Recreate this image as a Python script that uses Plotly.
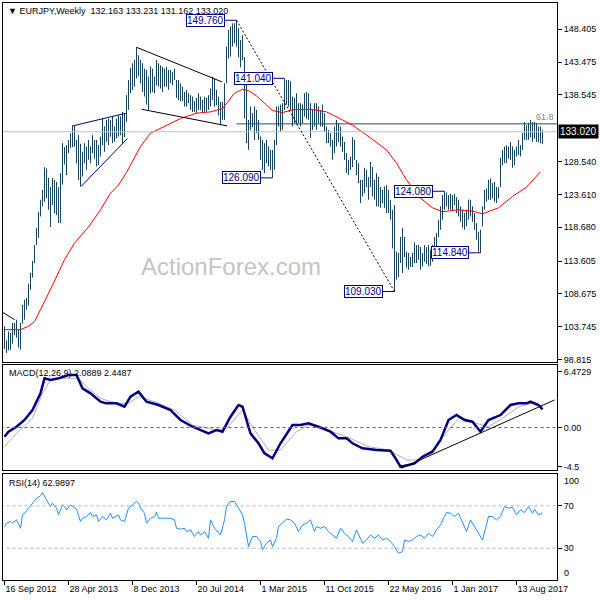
import pandas as pd
import plotly.graph_objects as go

# ---------------- data ----------------
START = "2012-09-16"  # first weekly bar

highs = [
    103.8, 101.7, 103.0, 102.8, 104.3, 104.3, 104.8, 103.3, 104.3, 107.0,
    107.8, 108.1, 110.2, 111.8, 113.6, 116.0, 118.6, 121.0, 122.8, 124.3,
    127.7, 127.5, 126.1, 124.7, 126.1, 125.8, 125.5, 124.7, 126.8, 131.3,
    130.7, 131.0, 131.8, 132.8, 134.0, 133.9, 131.8, 132.5, 131.2, 130.0,
    131.3, 130.8, 131.8, 130.8, 132.5, 131.8, 131.8, 131.0, 132.3, 135.0,
    133.8, 134.8, 135.0, 134.8, 135.3, 133.8, 135.0, 135.5, 135.3, 136.0,
    135.8, 138.5, 140.8, 142.6, 143.3, 143.8, 145.7, 144.5, 143.8, 143.3,
    142.5, 142.3, 141.3, 142.8, 142.5, 141.3, 143.8, 143.3, 143.0, 142.8,
    142.5, 142.8, 142.3, 142.3, 142.0, 142.5, 140.8, 140.8, 140.3, 139.8,
    139.0, 139.3, 138.8, 138.5, 138.3, 137.6, 138.1, 138.8, 138.3, 137.8,
    138.3, 138.1, 138.5, 139.5, 141.3, 141.0, 139.3, 138.3, 137.5, 137.5,
    140.3, 145.8, 148.3, 148.8, 149.3, 149.3, 149.76, 148.6, 146.8, 147.5,
    144.2, 140.8, 134.8, 136.8, 135.8, 136.8, 136.3, 134.8, 132.3, 131.8,
    131.3, 131.8, 130.8, 130.3, 130.3, 131.8, 136.8, 136.8, 137.1, 137.3,
    141.04, 140.8, 140.8, 140.6, 138.3, 138.1, 138.8, 137.3, 137.3, 137.1,
    138.8, 139.0, 138.8, 137.3, 136.3, 137.3, 137.3, 136.8, 136.3, 137.1,
    135.8, 133.8, 133.3, 132.8, 131.8, 133.8, 134.8, 134.3, 133.8, 132.3,
    131.5, 129.8, 128.8, 129.3, 132.2, 131.8, 128.8, 128.3, 125.8, 125.8,
    127.6, 127.3, 126.2, 128.5, 127.7, 125.8, 126.8, 126.2, 124.7, 124.3,
    124.8, 125.0, 124.3, 122.8, 121.3, 122.0, 115.0, 114.8, 117.2, 118.6,
    117.2, 115.0, 114.8, 114.2, 114.8, 116.4, 116.0, 116.0, 115.7, 114.8,
    116.0, 115.7, 116.0, 115.3, 116.0, 117.2, 117.8, 119.8, 121.8, 123.5,
    124.08, 123.9, 123.5, 123.7, 123.5, 123.7, 123.2, 122.8, 121.8, 121.3,
    120.8, 121.3, 122.8, 122.8, 121.8, 120.8, 119.3, 118.0, 118.3, 121.8,
    124.3, 124.5, 125.8, 126.0, 125.3, 125.5, 124.7, 124.7, 129.1, 130.3,
    130.8, 131.0, 130.8, 131.5, 130.8, 130.3, 130.8, 131.8, 131.0, 132.8,
    134.5, 134.0, 134.3, 134.8, 134.5, 134.5, 134.3, 133.8, 133.8, 133.231,
]

lows = [
    100.4, 99.8, 100.2, 100.3, 101.2, 102.5, 102.1, 100.6, 100.3, 104.2,
    104.8, 106.3, 106.9, 109.3, 111.1, 113.3, 116.0, 117.1, 120.3, 121.8,
    122.5, 123.0, 121.3, 118.7, 122.0, 120.8, 120.5, 119.3, 119.3, 125.1,
    128.1, 126.5, 129.8, 130.6, 130.7, 130.8, 128.3, 125.8, 124.8, 126.3,
    128.3, 127.3, 128.8, 128.3, 129.8, 129.0, 127.8, 128.0, 129.3, 131.0,
    130.0, 131.5, 131.0, 132.3, 131.3, 131.5, 132.0, 132.3, 132.5, 131.2,
    132.2, 134.5, 136.3, 138.8, 139.3, 139.8, 141.0, 141.3, 140.3, 139.0,
    138.3, 137.1, 136.3, 138.8, 139.0, 138.8, 140.0, 139.8, 139.5, 139.0,
    139.8, 139.8, 139.3, 140.3, 140.0, 140.8, 138.1, 137.8, 137.6, 137.6,
    136.8, 136.8, 137.3, 136.3, 136.0, 136.0, 135.8, 136.3, 136.3, 136.0,
    136.0, 136.0, 136.3, 136.8, 137.8, 136.8, 137.0, 135.5, 134.0, 134.8,
    134.8, 140.3, 144.0, 144.3, 145.8, 146.3, 145.8, 144.2, 142.7, 143.8,
    135.0, 131.3, 130.3, 133.3, 133.7, 131.8, 132.8, 131.8, 128.8, 127.3,
    126.8, 128.3, 127.8, 127.3, 126.09, 127.3, 131.0, 133.8, 133.0, 133.3,
    136.3, 137.1, 136.8, 136.3, 133.8, 134.3, 134.1, 134.3, 133.8, 134.3,
    135.3, 135.0, 134.8, 132.1, 133.3, 133.8, 133.3, 134.3, 133.8, 133.8,
    133.0, 131.3, 131.3, 130.8, 128.8, 129.8, 130.8, 131.5, 130.8, 130.0,
    128.8, 126.8, 126.5, 127.3, 127.7, 128.8, 126.5, 125.3, 122.3, 123.3,
    123.8, 124.7, 122.8, 124.7, 123.3, 122.8, 121.8, 121.8, 121.6, 122.3,
    121.6, 120.8, 120.8, 119.8, 115.5, 109.03, 110.8, 111.2, 113.3, 111.8,
    114.2, 112.6, 112.3, 112.7, 112.7, 113.3, 113.3, 113.8, 112.3, 112.8,
    113.5, 113.2, 112.8, 112.9, 113.5, 114.8, 115.3, 117.2, 118.3, 119.8,
    121.3, 121.8, 121.3, 121.3, 121.1, 122.0, 120.8, 120.3, 119.5, 118.6,
    118.3, 118.8, 119.8, 120.3, 119.5, 118.3, 116.8, 115.0, 114.84, 118.8,
    121.3, 122.5, 122.8, 122.8, 123.0, 122.5, 122.3, 123.0, 124.7, 128.0,
    128.3, 128.3, 129.0, 128.8, 127.6, 128.0, 129.3, 129.5, 129.3, 130.3,
    131.8, 131.8, 131.8, 132.2, 131.5, 132.0, 131.5, 131.5, 131.3, 131.162,
]

# red moving average (bar index, value)
ma_bars = [0, 8, 12, 15, 18, 22, 25, 30, 35, 42, 48, 53, 57, 61, 64, 68, 73, 81,
           88, 96, 103, 109, 112, 115, 119, 122, 126, 130, 134, 139, 144, 153,
           161, 169, 174, 183, 191, 196, 201, 207, 214, 219, 227, 234, 239, 247,
           254, 261, 268]
ma_vals = [103.3, 103.3, 103.8, 104.5, 106.3, 108.7, 110.6, 113.8, 116.3, 118.7,
           121.3, 123.8, 125.0, 126.9, 128.5, 130.8, 132.8, 134.0, 135.0, 135.8,
           136.0, 136.5, 137.6, 138.8, 139.4, 139.2, 138.4, 137.3, 136.2, 135.9,
           136.3, 136.4, 136.0, 134.8, 134.0, 132.1, 130.3, 128.3, 125.8, 123.3,
           121.6, 121.0, 121.3, 121.1, 120.7, 121.6, 123.3, 124.7, 127.0]

# MACD main line and signal (bar index, value)
macd_bars = [0, 2, 6, 10, 14, 18, 20, 23, 27, 32, 36, 39, 43, 48, 51, 56, 60, 63,
             67, 71, 77, 83, 88, 94, 102, 106, 109, 113, 117, 119, 123, 127, 130,
             134, 138, 144, 148, 152, 157, 163, 167, 171, 174, 179, 186, 193, 195,
             198, 202, 205, 209, 214, 218, 222, 226, 230, 234, 238, 242, 248, 253,
             257, 261, 263, 267, 269]
macd_vals = [-1.06, -0.48, 0.09, 0.87, 2.02, 3.95, 5.68, 5.48, 5.68, 6.06, 6.06,
             4.53, 3.95, 2.98, 2.79, 2.79, 2.40, 3.56, 4.13, 2.98, 2.60, 2.02,
             0.87, 0.09, -0.67, -0.29, -0.48, 1.25, 2.60, 2.40, -0.67, -1.82,
             -2.98, -3.56, -1.82, 0.29, 0.29, 0.48, 0.09, -0.48, -1.25, -1.25,
             -1.82, -2.40, -2.60, -2.68, -3.37, -4.53, -4.33, -4.14, -3.37,
             -2.79, -1.44, 0.87, 1.44, 0.87, 0.67, -0.48, 0.87, 1.44, 2.60, 2.79,
             2.79, 2.98, 2.60, 2.0889]
sig_bars = [0, 6, 14, 19, 23, 29, 37, 41, 48, 56, 62, 67, 75, 85, 94, 106, 111,
            119, 125, 132, 138, 146, 152, 159, 171, 182, 192, 201, 207, 215, 222,
            228, 236, 242, 249, 257, 265, 269]
sig_vals = [-2.21, -0.67, 1.06, 3.95, 5.48, 5.68, 5.68, 4.71, 3.37, 2.79, 2.79,
            3.56, 2.98, 2.02, 0.29, -0.29, -0.10, 2.02, -0.29, -2.60, -2.60,
            -0.48, 0.29, -0.10, -1.06, -2.21, -2.60, -3.75, -3.75, -2.40, -0.29,
            1.25, 0.48, 0.09, 1.06, 2.40, 2.86, 2.4487]

# RSI(14) (bar index, value)
rsi_bars = [0, 1, 3, 4, 6, 8, 9, 10, 12, 14, 16, 18, 19, 21, 23, 24, 26, 27, 29,
            30, 31, 33, 35, 36, 38, 39, 41, 43, 44, 46, 47, 49, 51, 53, 54, 56,
            57, 58, 60, 62, 64, 66, 67, 68, 70, 71, 73, 75, 76, 77, 80, 83, 85,
            86, 88, 90, 91, 93, 95, 97, 98, 100, 102, 103, 105, 107, 108, 110,
            111, 113, 115, 117, 119, 120, 122, 124, 126, 128, 129, 131, 133, 134,
            136, 137, 139, 141, 143, 145, 147, 149, 151, 153, 155, 156, 158, 160,
            162, 164, 166, 168, 170, 172, 174, 176, 177, 179, 181, 183, 185, 187,
            189, 191, 193, 195, 197, 199, 200, 202, 204, 206, 208, 210, 212, 214,
            216, 218, 220, 221, 223, 225, 227, 229, 231, 233, 235, 237, 239, 241,
            242, 244, 246, 248, 250, 252, 254, 256, 258, 260, 262, 264, 265, 267,
            269]
rsi_vals = [50.4, 53.6, 55.2, 53.6, 56.7, 48.8, 61.4, 63.0, 67.8, 72.5,
            77.2, 79.4, 82.6, 75.6, 69.3, 72.5, 67.8, 61.4, 70.9, 69.3,
            66.2, 70.9, 67.8, 66.8, 55.2, 58.3, 59.9, 63.7, 59.9, 61.4,
            55.2, 59.9, 56.7, 63.0, 58.3, 59.9, 61.4, 56.7, 55.2, 67.8,
            70.9, 74.1, 72.5, 67.8, 63.0, 53.6, 58.3, 59.9, 64.0, 58.3,
            58.3, 58.3, 56.7, 48.8, 47.9, 48.8, 45.7, 47.3, 41.0, 45.7,
            42.5, 45.7, 39.4, 56.7, 48.8, 44.1, 42.5, 56.7, 69.3, 74.1,
            74.1, 67.8, 61.4, 53.6, 31.5, 41.0, 41.0, 36.3, 28.4, 34.7,
            37.8, 31.5, 39.4, 50.4, 53.6, 57.4, 56.7, 53.6, 45.7, 52.0,
            53.6, 56.7, 45.7, 50.4, 48.8, 50.4, 45.7, 42.5, 39.4, 48.8,
            44.1, 41.0, 36.3, 47.3, 42.5, 34.7, 37.8, 42.5, 39.4, 42.5,
            37.8, 39.4, 36.3, 31.5, 25.2, 26.8, 37.8, 36.3, 37.8, 41.0,
            42.5, 39.4, 44.1, 41.0, 47.3, 52.0, 59.9, 63.7, 63.0, 59.9,
            63.0, 53.6, 45.7, 56.7, 50.4, 44.1, 37.8, 52.0, 59.9, 59.9,
            56.7, 59.9, 69.3, 67.8, 68.7, 61.4, 66.2, 63.7, 69.3, 63.0,
            66.8, 61.4, 62.9897]

# x-axis tick labels
date_tick_bars = [0, 32, 64, 96, 128, 160, 192, 224, 256]
date_tick_labels = ["16 Sep 2012", "28 Apr 2013", "8 Dec 2013", "20 Jul 2014",
                    "1 Mar 2015", "11 Oct 2015", "22 May 2016", "1 Jan 2017",
                    "13 Aug 2017"]
price_ticks = [148.405, 143.475, 138.545, 128.540, 123.610, 118.680, 113.605,
               108.675, 103.745, 98.815]
macd_ticks = [6.4729, 0.0, -4.5]
macd_tick_text = ["6.4729", "0.00", "-4.5"]
rsi_levels = [70, 30]

# labelled swing points (bar index, price)
swing_bars = [116, 140, 134, 220, 238, 195]
swing_vals = [149.760, 141.040, 126.090, 124.080, 114.840, 109.030]

last_close = 133.020
fib_level = 134.20

# drawn trend lines: (bar0, value0, bar1, value1)
blue_wedge = [(34.2, 133.9, 60.7, 135.8), (38.3, 124.8, 61.5, 132.0)]
black_wedge = [(66.0, 145.7, 108.8, 140.5), (68.5, 136.4, 111.3, 133.9),
               (-1.5, 106.0, 5.1, 104.8)]
dotted_line = (116, 149.76, 195, 109.03)
macd_trend = (198.5, -4.7, 275.0, 3.18)

# ---------------- figure ----------------
start = pd.Timestamp(START)


def wk(b):
    return start + pd.Timedelta(days=7 * b)


def ds(b):
    return wk(b).strftime("%Y-%m-%d %H:%M:%S")


dates = [ds(i) for i in range(len(highs))]

seg_x, seg_y = [], []
for d, h, l in zip(dates, highs, lows):
    seg_x += [d, d, None]
    seg_y += [l, h, None]

FONT = "Liberation Sans, Arial, DejaVu Sans, sans-serif"
BAR_COL = "#17435c"
NAVY = "#000080"

fig = go.Figure()
fig.add_trace(go.Scatter(x=seg_x, y=seg_y, mode="lines", xaxis="x3", yaxis="y3",
                         line=dict(color=BAR_COL, width=1), hoverinfo="skip"))
fig.add_trace(go.Scatter(x=[ds(b) for b in ma_bars], y=ma_vals, mode="lines",
                         xaxis="x3", yaxis="y3",
                         line=dict(color="#ff0000", width=1)))
fig.add_trace(go.Scatter(x=[ds(b) for b in sig_bars], y=sig_vals, mode="lines",
                         xaxis="x2", yaxis="y2",
                         line=dict(color="#b0b0b0", width=1)))
fig.add_trace(go.Scatter(x=[ds(b) for b in macd_bars], y=macd_vals, mode="lines",
                         xaxis="x2", yaxis="y2",
                         line=dict(color=NAVY, width=2.5)))
fig.add_trace(go.Scatter(x=[ds(b) for b in rsi_bars], y=rsi_vals, mode="lines",
                         xaxis="x", yaxis="y",
                         line=dict(color="#1e90ff", width=1)))

shapes = []


def seg(xr, yr, b0, v0, b1, v1, color, dash="solid", width=1):
    shapes.append(dict(type="line", xref=xr, yref=yr, x0=ds(b0), y0=v0,
                       x1=ds(b1), y1=v1, layer="above",
                       line=dict(color=color, width=width, dash=dash)))


# horizontal lines
seg("x3", "y3", -5, last_close, 300, last_close, "#c0c0c0")
seg("x3", "y3", 116, fib_level, 300, fib_level, "#2f4f4f")
for b0, v0, b1, v1 in blue_wedge:
    seg("x3", "y3", b0, v0, b1, v1, "#00008b")
for b0, v0, b1, v1 in black_wedge:
    seg("x3", "y3", b0, v0, b1, v1, "#000000")
seg("x3", "y3", *dotted_line, "#000000", dash="2px,2px")
seg("x2", "y2", -5, 0, 300, 0, "#606060", dash="3px,3px")
seg("x2", "y2", *macd_trend, "#000000")
for lv in rsi_levels:
    seg("x", "y", -5, lv, 300, lv, "#b4b4b4", dash="3px,3px")

annotations = []
for b, v in zip(swing_bars, swing_vals):
    annotations.append(dict(
        x=ds(b), y=v, xref="x3", yref="y3", text=f"{v:.3f}",
        showarrow=True, arrowhead=0, arrowwidth=1, arrowcolor=NAVY,
        ax=-31, ay=0, font=dict(family=FONT, size=10, color=NAVY),
        bgcolor="white", bordercolor=NAVY, borderwidth=1, borderpad=0))

annotations.append(dict(x=1, xref="paper", y=last_close, yref="y3",
                        xanchor="left", yanchor="middle", xshift=1,
                        text=f"{last_close:.3f}", showarrow=False,
                        bgcolor="black", borderpad=1,
                        font=dict(family=FONT, size=10, color="white")))
annotations.append(dict(x=ds(276), xref="x3", y=fib_level, yref="y3",
                        xanchor="right", yanchor="bottom", text="61.8",
                        showarrow=False, xshift=-1,
                        font=dict(family=FONT, size=9, color="#8a8470")))
annotations.append(dict(x=0, y=1, xref="paper", yref="paper", xanchor="left",
                        yanchor="top", xshift=3, yshift=-1, showarrow=False,
                        text="\u25BC EURJPY,Weekly  132.163 133.231 131.162 133.020",
                        font=dict(family=FONT, size=9, color="black")))
annotations.append(dict(x=0, y=0.3726, xref="paper", yref="paper", xanchor="left",
                        yanchor="top", xshift=4, yshift=-1, showarrow=False,
                        text="MACD(12,26,9) 2.0889 2.4487",
                        font=dict(family=FONT, size=9, color="black")))
annotations.append(dict(x=0, y=0.1837, xref="paper", yref="paper", xanchor="left",
                        yanchor="top", xshift=4, yshift=-2, showarrow=False,
                        text="RSI(14) 62.9897",
                        font=dict(family=FONT, size=9, color="black")))
annotations.append(dict(x=0.4116, y=0.5425, xref="paper", yref="paper",
                        xanchor="center", yanchor="middle", showarrow=False,
                        text="ActionForex.com",
                        font=dict(family=FONT, size=24, color="#c4c4c4")))
annotations.append(dict(x=1, xref="paper", y=100, yref="y", xanchor="left",
                        yanchor="top", xshift=5, showarrow=False, text="100",
                        font=dict(family=FONT, size=9, color="black")))
annotations.append(dict(x=1, xref="paper", y=0, yref="y", xanchor="left",
                        yanchor="bottom", xshift=5, showarrow=False, text="0",
                        font=dict(family=FONT, size=9, color="black")))

xrange = [ds(-0.75), ds(276.25)]
axis_common = dict(showline=True, mirror=True, linecolor="black", linewidth=1,
                   showgrid=False, zeroline=False)
tickfont = dict(family=FONT, size=9, color="black")

fig.update_layout(
    width=600, height=600,
    margin=dict(l=3, r=43, t=3, b=20),
    paper_bgcolor="white", plot_bgcolor="white",
    showlegend=False, hovermode=False,
    shapes=shapes, annotations=annotations,
    xaxis=dict(type="date", range=xrange, anchor="y", domain=[0, 1],
               tickvals=[ds(b) for b in date_tick_bars],
               ticktext=date_tick_labels, ticks="outside", ticklen=4,
               tickcolor="black", ticklabelposition="outside right",
               tickfont=tickfont, **axis_common),
    xaxis2=dict(type="date", range=xrange, anchor="y2", matches="x",
                showticklabels=False, ticks="", **axis_common),
    xaxis3=dict(type="date", range=xrange, anchor="y3", matches="x",
                showticklabels=False, ticks="", **axis_common),
    yaxis=dict(domain=[0, 0.1837], range=[0, 100], side="right", anchor="x",
               tickvals=rsi_levels, ticktext=[str(v) for v in rsi_levels],
               ticks="outside", ticklen=4, tickcolor="black",
               tickfont=tickfont, **axis_common),
    yaxis2=dict(domain=[0.1906, 0.3726], range=[-4.91, 7.22], side="right",
                anchor="x2", tickvals=macd_ticks, ticktext=macd_tick_text,
                ticks="outside", ticklen=4, tickcolor="black",
                tickfont=tickfont, **axis_common),
    yaxis3=dict(domain=[0.3778, 1], range=[98.44, 152.35], side="right",
                anchor="x3", tickvals=price_ticks,
                ticktext=[f"{v:.3f}" for v in price_ticks],
                ticks="outside", ticklen=4, tickcolor="black",
                tickfont=tickfont, **axis_common),
)

fig.write_html("out.html",
               config={"displayModeBar": False, "staticPlot": True},
               post_script="document.body.style.margin='0px';"
                           "document.body.style.padding='0px';")
